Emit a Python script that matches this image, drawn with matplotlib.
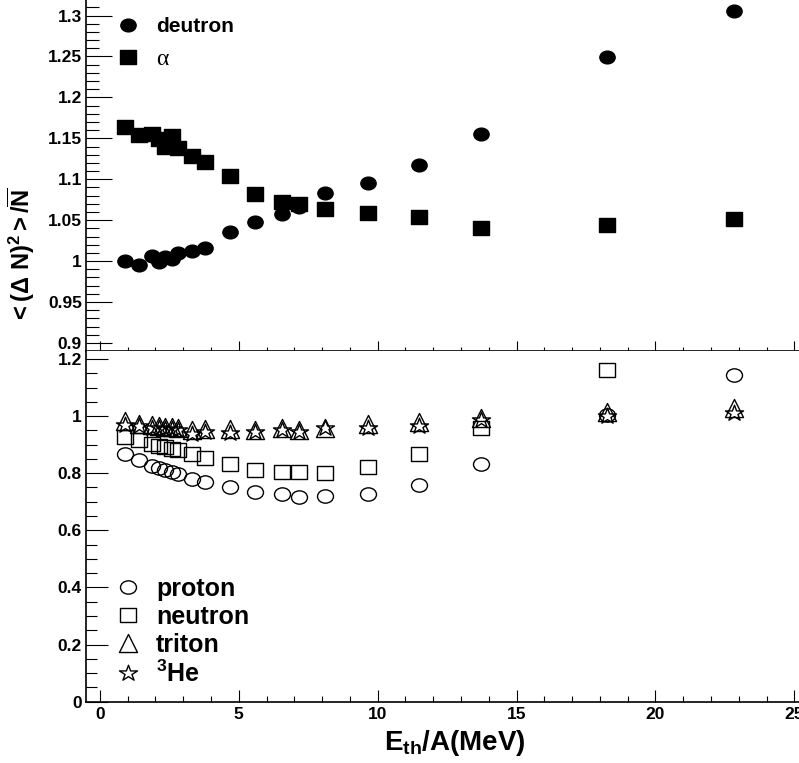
import numpy as np
import matplotlib
matplotlib.use('Agg')
import matplotlib.pyplot as plt
from matplotlib.markers import MarkerStyle
from matplotlib.path import Path
from matplotlib.ticker import MultipleLocator

# ---- datos ----
energy = [0.92, 1.41, 1.86, 2.12, 2.36, 2.61, 2.82, 3.30, 3.78, 4.68,
          5.59, 6.54, 7.18, 8.10, 9.66, 11.49, 13.72, 18.25, 22.82]

deutron = [1.000, 0.995, 1.006, 0.999, 1.005, 1.002, 1.010, 1.012, 1.016, 1.035,
           1.048, 1.058, 1.066, 1.083, 1.095, 1.117, 1.155, 1.249, 1.306]
alpha = [1.164, 1.154, 1.155, 1.149, 1.139, 1.153, 1.138, 1.129, 1.121, 1.104,
         1.082, 1.072, 1.070, 1.064, 1.059, 1.054, 1.041, 1.044, 1.051]

proton = [0.867, 0.846, 0.825, 0.817, 0.811, 0.805, 0.797, 0.779, 0.770, 0.750,
          0.733, 0.727, 0.715, 0.720, 0.728, 0.760, 0.831, 1.005, 1.143]
neutron = [0.928, 0.916, 0.904, 0.896, 0.892, 0.885, 0.880, 0.867, 0.852, 0.832,
           0.811, 0.803, 0.805, 0.802, 0.823, 0.867, 0.957, 1.161]
triton = [0.982, 0.974, 0.968, 0.966, 0.963, 0.963, 0.960, 0.953, 0.955, 0.954,
          0.951, 0.958, 0.953, 0.960, 0.974, 0.980, 0.992, 1.015, 1.030]
he3 = [0.968, 0.965, 0.960, 0.958, 0.955, 0.955, 0.953, 0.939, 0.945, 0.942,
       0.945, 0.950, 0.945, 0.957, 0.960, 0.965, 0.986, 1.000, 1.012]

top_labels = ['deutron', 'α']
bot_labels = ['proton', 'neutron', 'triton', r'$^{\mathbf{3}}$He']

plt.rcParams['font.family'] = 'Liberation Sans'
plt.rcParams['font.weight'] = 'bold'
plt.rcParams['mathtext.fontset'] = 'custom'
plt.rcParams['mathtext.rm'] = 'Liberation Sans:bold'
plt.rcParams['mathtext.bf'] = 'Liberation Sans:bold'
plt.rcParams['mathtext.it'] = 'Liberation Sans:bold'


def wide(m, sx=1.2):
    """Marcador estirado en horizontal (la figura original esta escalada)."""
    ms = MarkerStyle(m)
    p = ms.get_path().transformed(ms.get_transform())
    return Path(p.vertices * np.array([sx, 1.0]), p.codes)


CIRC = wide('o')
SQR = wide('s')
TRI = wide('^', 1.0)
STAR = wide('*', 1.15)

fig = plt.figure(figsize=(7.99, 7.63), dpi=100)
L, W = 0.1076, 0.8924
ax_top = fig.add_axes([L, 0.5404, W, 0.4596])
ax_bot = fig.add_axes([L, 0.0803, W, 0.4601])

fmt = plt.FuncFormatter(lambda v, p: f'{v:g}')

# panel superior
ax_top.plot(energy, deutron, ls='none', marker=CIRC, ms=11, color='black',
            label=top_labels[0])
ax_top.plot(energy, alpha, ls='none', marker=SQR, ms=11.5, color='black',
            label=top_labels[1])
ax_top.set_xlim(-0.5, 25.17)
ax_top.set_ylim(0.8906, 1.319)
ax_top.yaxis.set_major_locator(MultipleLocator(0.05))
ax_top.yaxis.set_minor_locator(MultipleLocator(0.01))
ax_top.xaxis.set_major_locator(MultipleLocator(5))
ax_top.xaxis.set_minor_locator(MultipleLocator(1))
ax_top.tick_params(axis='y', which='major', direction='in', length=18.5, width=0.8,
                   labelsize=12.5, pad=3)
ax_top.tick_params(axis='y', which='minor', direction='in', length=9.4, width=0.8)
ax_top.tick_params(axis='x', which='major', direction='in', length=7.2, width=0.8,
                   labelbottom=False)
ax_top.tick_params(axis='x', which='minor', direction='in', length=3, width=0.8)
ax_top.yaxis.set_major_formatter(fmt)
for s in ['top', 'right']:
    ax_top.spines[s].set_visible(False)
for s in ['left', 'bottom']:
    ax_top.spines[s].set_linewidth(1.2)

leg1 = ax_top.legend(loc='upper left', bbox_to_anchor=(0.0457, 0.951), frameon=False,
                     numpoints=1, fontsize=15, handlelength=0.9, handletextpad=0.9,
                     borderpad=0, borderaxespad=0, labelspacing=0.6)
t_alpha = leg1.get_texts()[1]
t_alpha.set_family('Liberation Serif')
t_alpha.set_fontweight('normal')
t_alpha.set_fontsize(17)

# panel inferior
ax_bot.plot(energy, proton, ls='none', marker=CIRC, ms=11.5, mfc='none',
            mec='black', mew=1.0, label=bot_labels[0])
ax_bot.plot(energy[:len(neutron)], neutron, ls='none', marker=SQR, ms=12, mfc='none',
            mec='black', mew=1.0, label=bot_labels[1])
ax_bot.plot(energy, triton, ls='none', marker=TRI, ms=13, mfc='none',
            mec='black', mew=1.0, label=bot_labels[2])
ax_bot.plot(energy, he3, ls='none', marker=STAR, ms=13, mfc='none',
            mec='black', mew=1.0, label=bot_labels[3])
ax_bot.set_xlim(-0.5, 25.17)
ax_bot.set_ylim(0, 1.229)
ax_bot.yaxis.set_major_locator(MultipleLocator(0.2))
ax_bot.yaxis.set_minor_locator(MultipleLocator(0.05))
ax_bot.xaxis.set_major_locator(MultipleLocator(5))
ax_bot.xaxis.set_minor_locator(MultipleLocator(1))
ax_bot.tick_params(axis='y', which='major', direction='in', length=15.6, width=0.8,
                   labelsize=12.5, pad=3)
ax_bot.tick_params(axis='y', which='minor', direction='in', length=7.7, width=0.8)
ax_bot.tick_params(axis='x', which='major', direction='in', length=8.4, width=0.8,
                   labelsize=12.5, pad=4)
ax_bot.tick_params(axis='x', which='minor', direction='in', length=4, width=0.8)
ax_bot.yaxis.set_major_formatter(fmt)
ax_bot.xaxis.set_major_formatter(fmt)
for s in ['top', 'right']:
    ax_bot.spines[s].set_visible(False)
for s in ['left', 'bottom']:
    ax_bot.spines[s].set_linewidth(1.2)

ax_bot.legend(loc='upper left', bbox_to_anchor=(0.0457, 0.356), frameon=False,
              numpoints=1, fontsize=18, handlelength=0.75, handletextpad=0.75,
              borderpad=0, borderaxespad=0, labelspacing=0.16)

# titulos de ejes
fig.text(455 / 799, 1 - 750 / 763, r'$\mathbf{E_{th}/A(MeV)}$', ha='center',
         va='baseline', fontsize=20)
fig.text(21 / 799, 1 - 256 / 763, r'$\mathbf{<(}\Delta\mathbf{\ N)^{2}>/\overline{N}}$',
         rotation=90, ha='center', va='center', fontsize=17)

fig.savefig('out.png', dpi=100)
